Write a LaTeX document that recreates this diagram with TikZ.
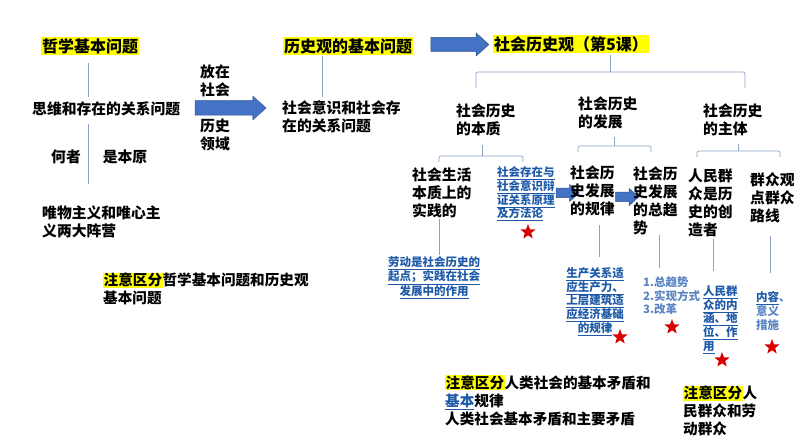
\documentclass[tikz,border=0pt]{standalone}
\usepackage{fontspec}
\setmainfont{Noto Sans CJK SC}
\usetikzlibrary{shapes.arrows,shapes.geometric}
\definecolor{hl}{HTML}{FFFF00}
\definecolor{linkblue}{HTML}{1E5AA8}
\definecolor{ltblue}{HTML}{5B84C4}
\definecolor{lncol}{HTML}{8FA2C6}
\definecolor{arrfill}{HTML}{4472C4}
\definecolor{arrdraw}{HTML}{2F528F}
\definecolor{starred}{HTML}{D80000}
\newcommand\hlt[1]{{\setlength{\fboxsep}{0.5bp}\colorbox{hl}{#1}}}
\newcommand\uln[1]{\underline{#1}}
\begin{document}
\begin{tikzpicture}[>=latex,line join=bevel,
  tit/.style={fill=hl,inner sep=1bp,font=\fontsize{16bp}{19bp}\selectfont\bfseries},
  lbl/.style={inner sep=0bp,align=left,anchor=west,font=\fontsize{14.8bp}{18bp}\selectfont\bfseries},
  blu/.style={inner sep=0bp,align=center,text=linkblue,font=\fontsize{11.5bp}{13.7bp}\selectfont\bfseries},
  note/.style={inner sep=0bp,align=left,anchor=west,font=\fontsize{14.6bp}{18bp}\selectfont\bfseries},
  ln/.style={draw=lncol,line width=0.7bp},
  blk/.style={single arrow,fill=arrfill,draw=arrdraw,line width=0.5bp,inner sep=0bp,
    single arrow head extend=4.5bp,single arrow tip angle=84},
  blksmall/.style={blk,single arrow head extend=3.8bp,minimum height=23bp},
  starmk/.style={star,star points=5,star point ratio=2.4,fill=starred,inner sep=0bp,minimum size=16bp},
]
\useasboundingbox (0bp,0bp) rectangle (794bp,447bp);
%%
\node (zhexue) at (90bp,401bp) [tit] {哲学基本问题};
  \node (siwei) at (32bp,338bp) [lbl] {思维和存在的关系问题};
  \node (hezhe) at (66bp,290bp) [lbl,anchor=center] {何者};
  \node (benyuan) at (125bp,290bp) [lbl,anchor=center] {是本原};
  \node (zhenying) at (42bp,225.5bp) [lbl] {唯物主义和唯心主\\义两大阵营};
  \node (jiantou1) at (226.5bp,339bp) [blk,minimum height=71bp] {\rule{0pt}{14bp}};
  \node (fangzai) at (215bp,366.5bp) [lbl,anchor=center] {放在\\社会};
  \node (lingyu) at (215bp,312.5bp) [lbl,anchor=center] {历史\\领域};
  \node (lishiguan) at (348bp,401bp) [tit] {历史观的基本问题};
  \node (yishi) at (282bp,330bp) [lbl] {社会意识和社会存\\在的关系问题};
  \node (jiantou2) at (456bp,402.5bp) [blk,minimum height=58bp] {\rule{0pt}{13.5bp}};
  \node (shehui) at (571bp,403bp) [tit] {社会历史观（第5课）};
  \node (benzhi) at (456bp,327.5bp) [lbl] {社会历史\\的本质};
  \node (fazhan) at (578bp,334bp) [lbl] {社会历史\\的发展};
  \node (zhuti) at (703bp,327bp) [lbl] {社会历史\\的主体};
  \node (shijian) at (412bp,253.7bp) [lbl] {社会生活\\本质上的\\实践的};
  \node (yuanli) at (497bp,253bp) [blu,anchor=west,align=left] {\uln{社会存在与}\\\uln{社会意识辩}\\\uln{证关系原理}\\\uln{及方法论}};
  \node (xing1) at (528bp,215bp) [starmk] {};
  \node (jiantou3) at (565bp,254bp) [blksmall] {\rule{0pt}{9bp}};
  \node (guilv) at (570bp,256bp) [lbl] {社会历\\史发展\\的规律};
  \node (jiantou4) at (624.5bp,250bp) [blksmall] {\rule{0pt}{9bp}};
  \node (qushi) at (633bp,246bp) [lbl] {社会历\\史发展\\的总趋\\势};
  \node (chuangzao) at (688bp,244bp) [lbl] {人民群\\众是历\\史的创\\造者};
  \node (luxian) at (750bp,249bp) [lbl] {群众观\\点群众\\路线};
  \node (laodong) at (434bp,169bp) [blu] {\uln{劳动是社会历史的}\\\uln{起点；实践在社会}\\\uln{发展中的作用}};
  \node (shipei) at (595bp,145.6bp) [blu] {\uln{生产关系适}\\\uln{应生产力、}\\\uln{上层建筑适}\\\uln{应经济基础}\\\uln{的规律}};
  \node (xing2) at (620bp,110bp) [starmk] {};
  \node (sandian) at (643bp,151.3bp) [blu,text=ltblue,anchor=west,align=left] {1.总趋势\\2.实现方式\\3.改革};
  \node (xing3) at (672bp,120bp) [starmk] {};
  \node (neihan) at (703bp,127.4bp) [blu,anchor=west,align=left] {\uln{人民群}\\\uln{众的内}\\\uln{涵、地}\\\uln{位、作}\\\uln{用}};
  \node (xing4) at (722bp,87bp) [starmk] {};
  \node (cuoshi) at (756bp,136bp) [blu,text=ltblue,anchor=west,align=left] {\textcolor{linkblue}{\uln{内容}}、\\意义\\措施};
  \node (xing5) at (772bp,100bp) [starmk] {};
  \node (zhuyi1) at (103bp,158bp) [note] {\hlt{注意区分}哲学基本问题和历史观\\基本问题};
  \node (zhuyi2) at (445bp,46.3bp) [note] {\hlt{注意区分}人类社会的基本矛盾和\\\textcolor{linkblue}{\uln{基本}}规律\\人类社会基本矛盾和主要矛盾};
  \node (zhuyi3) at (683bp,36bp) [note] {\hlt{注意区分}人\\民群众和劳\\动群众};
  \coordinate (k0) at (610bp,375bp);
  \coordinate (k0l) at (476bp,359bp);
  \coordinate (k0r) at (745bp,359bp);
  \coordinate (k1) at (482bp,291bp);
  \coordinate (k1l) at (439bp,285bp);
  \coordinate (k1r) at (523bp,285bp);
  \coordinate (k2) at (614bp,301bp);
  \coordinate (k2l) at (578bp,295bp);
  \coordinate (k2r) at (651bp,295bp);
  \coordinate (k3) at (738bp,296bp);
  \coordinate (k3l) at (697bp,290bp);
  \coordinate (k3r) at (780bp,290bp);
  \draw [ln,shorten <=8bp,shorten >=5bp] ([xshift=-2bp]zhexue.south) -- ([xshift=-2bp]zhexue.south |- siwei.north);
  \draw [ln,shorten <=8bp,shorten >=21bp] ([xshift=-2bp]zhexue.south |- siwei.south) -- ([xshift=-2bp]zhexue.south |- zhenying.north);
  \draw [ln,shorten <=1bp,shorten >=4bp] ([xshift=-26bp]lishiguan.south) -- ([xshift=-26bp]lishiguan.south |- yishi.north);
  \draw [ln,shorten <=2bp] (shehui.south -| k0) -- (k0);
  \draw [ln,rounded corners=2bp] (k0l) |- (k0) -| (k0r);
  \draw [ln,shorten <=9bp] (benzhi.south -| k1) -- (k1);
  \draw [ln,rounded corners=2bp] (k1l) |- (k1) -| (k1r);
  \draw [ln,shorten <=8bp] (fazhan.south -| k2) -- (k2);
  \draw [ln,rounded corners=2bp] (k2l) |- (k2) -| (k2r);
  \draw [ln,shorten <=8bp] (zhuti.south -| k3) -- (k3);
  \draw [ln,rounded corners=2bp] (k3l) |- (k3) -| (k3r);
  \draw [ln,shorten >=2bp] ([xshift=-2.5bp]shijian.south) -- ([xshift=-2.5bp]shijian.south |- laodong.north);
  \draw [ln,shorten <=9bp,shorten >=10bp] ([xshift=7.4bp]guilv.south) -- ([xshift=7.4bp]guilv.south |- shipei.north);
  \draw [ln,shorten >=8bp] ([xshift=4.4bp]qushi.south) -- ([xshift=4.4bp]qushi.south |- sandian.north);
  \draw [ln,shorten <=1.5bp,shorten >=14bp] ([xshift=3.4bp]chuangzao.south) -- ([xshift=3.4bp]chuangzao.south |- neihan.north);
  \draw [ln,shorten <=13bp,shorten >=19bp] ([xshift=-2bp]luxian.south) -- ([xshift=-2bp]luxian.south |- cuoshi.north);
%
\end{tikzpicture}
\end{document}
